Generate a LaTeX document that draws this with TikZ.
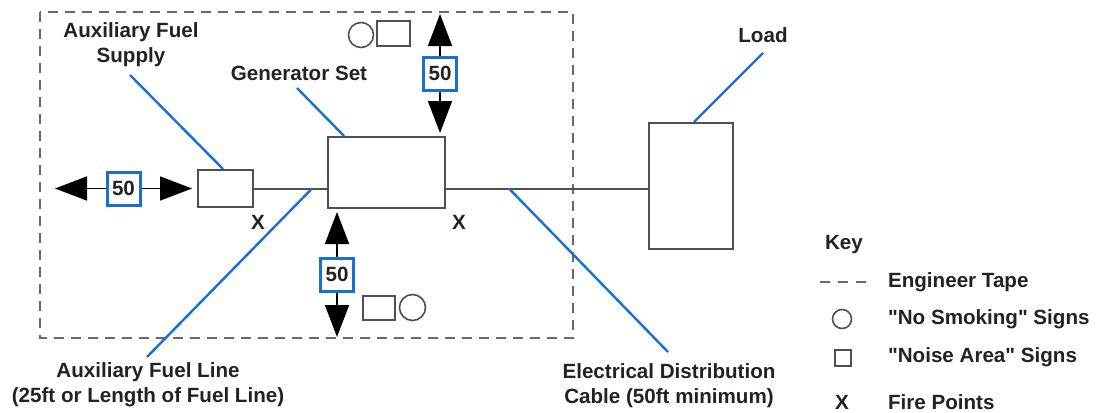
\documentclass[tikz,border=0pt]{standalone}
\usepackage{fontspec}
\setmainfont{Liberation Sans}[Ligatures=TeXOff]
\usetikzlibrary{arrows.meta,calc}
\definecolor{leaderblue}{RGB}{22,112,214}
\definecolor{inkgray}{RGB}{80,80,80}
\definecolor{tapegray}{RGB}{105,105,105}
\definecolor{textdark}{RGB}{34,34,34}

\begin{document}
\begin{tikzpicture}[x=0.5pt,y=-0.5pt,
  font=\fontsize{10.3}{12.5}\selectfont\bfseries, text=textdark,
  unit/.style={draw=inkgray, line width=1pt, fill=white, inner sep=0pt},
  sign/.style={draw=inkgray, line width=0.8pt, inner sep=0pt},
  tape/.style={draw=tapegray, line width=1.15pt, dash pattern=on 5pt off 3.5pt},
  leader/.style={draw=leaderblue, line width=1.2pt},
  wire/.style={draw=inkgray, line width=1pt},
  distline/.style={draw=black, line width=0.8pt,
    {Triangle[length=16pt,width=12pt]}-{Triangle[length=16pt,width=12pt]}},
  distbox/.style={draw=leaderblue, line width=1.5pt, fill=white,
    minimum size=16.5pt, inner sep=0pt},
  lbl/.style={align=center}]
\useasboundingbox (0,0) rectangle (1096,412);

% taped-off area
\draw[tape] (40,12) rectangle (573,338);

% units
\node[unit, minimum width=27.5pt, minimum height=18.5pt] (supply) at (225.5,188.5) {};
\node[unit, minimum width=58.5pt, minimum height=35.5pt] (gen) at (386.5,172.5) {};
\node[unit, minimum width=42pt, minimum height=63pt] (load) at (691,186) {};

% fuel line and cable
\draw[wire] (supply.east) -- (supply.east -| gen.west);
\draw[wire] (gen.east |- supply.east) -- (load.west |- supply.east);

% 50 ft distances
\draw[distline] (55,188.5) -- node[distbox] (distW) {50} ([xshift=-2.5pt]supply.west);
\draw[distline] (440,14) -- node[distbox] (distN) {50} (440,133);
\draw[distline] (337,212) -- node[distbox] (distS) {50} (337,337);

% signs
\node[sign, circle, minimum size=12.5pt] (smokeN) at (361,35) {};
\node[sign, minimum width=16.5pt, minimum height=12.5pt] (noiseN) at (393.5,33.5) {};
\node[sign, minimum width=16pt, minimum height=12pt] (noiseS) at (379,308) {};
\node[sign, circle, minimum size=13pt] (smokeS) at (412.5,307.5) {};

% fire points
\node (fireA) at (258,222) {X};
\node (fireB) at (459,222) {X};

% labels
\node[lbl] (lblSupply) at (131,45) {Auxiliary Fuel\\Supply};
\node (lblGen) at (299,73) {Generator Set};
\node (lblLoad) at (763,35) {Load};
\node[lbl] (lblLine) at (148,385) {Auxiliary Fuel Line\\(25ft or Length of Fuel Line)};
\node[lbl] (lblCable) at (669,386) {Electrical Distribution\\Cable (50ft minimum)};

% leaders
\coordinate (tSupply) at (130,75);
\coordinate (tGen) at (297,88);
\coordinate (tLine) at (147,357);
\coordinate (tCable) at (668,352);
\coordinate (tLoad) at (763,53);
\coordinate (fuelTap) at ($(gen.west |- supply.east)+(-15,0)$);
\coordinate (cableTap) at ($(gen.east |- supply.east)+(63,0)$);
\draw[leader] (tSupply) -- ($(supply.north)+(-2.5,0)$);
\draw[leader] (tGen) -- ($(gen.north west)+(17,0)$);
\draw[leader] (fuelTap) -- (tLine);
\draw[leader] (cableTap) -- (tCable);
\draw[leader] (tLoad) -- ($(load.north)+(3,0)$);

% key
\node[anchor=west] (keyTitle) at (818,245) {Key};
\draw[tape, dash pattern=on 5pt off 4pt] (820,282) -- (868,282);
\node[anchor=west] (keyTape) at (881,282) {Engineer Tape};
\node[sign, circle, minimum size=9.5pt] (keySmoke) at (842,319) {};
\node[anchor=west] (keySmokeTxt) at (881,319) {"No Smoking" Signs};
\node[sign, minimum size=8pt] (keyNoise) at (843,358) {};
\node[anchor=west] (keyNoiseTxt) at (881,357) {"Noise Area" Signs};
\node (keyFire) at (842,402) {X};
\node[anchor=west] (keyFireTxt) at (881,402) {Fire Points};
\end{tikzpicture}
\end{document}
